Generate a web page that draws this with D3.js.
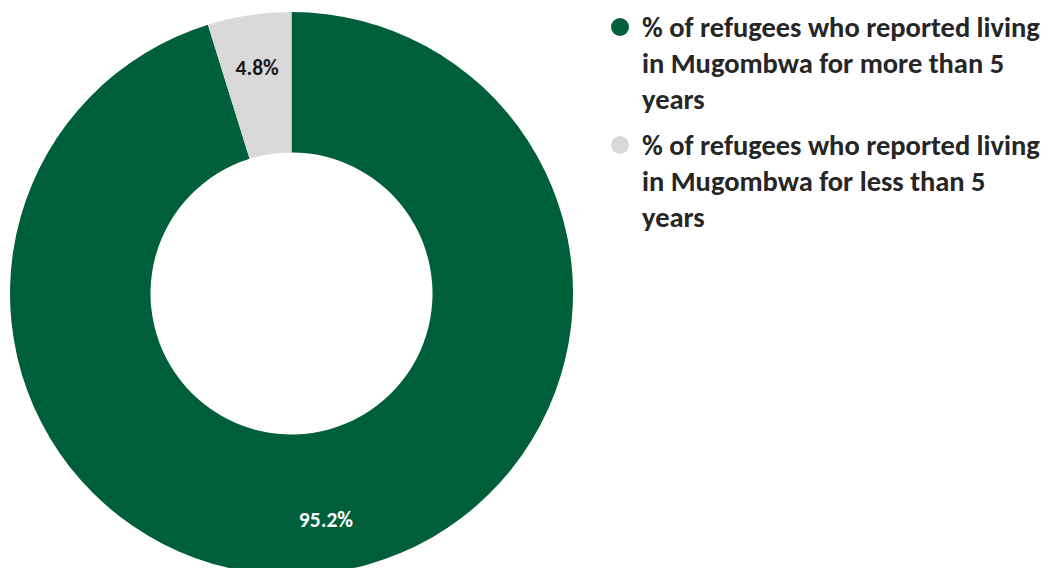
<!DOCTYPE html>
<html><head><meta charset="utf-8">
<script src="https://cdn.jsdelivr.net/npm/d3@7"></script>
<style>html,body{margin:0;padding:0;background:#fff;}svg{display:block;}</style>
</head><body>
<svg id="chart" width="1048" height="568"></svg>
<script>
const categories = ["% of refugees who reported living in Mugombwa for more than 5 years",
                    "% of refugees who reported living in Mugombwa for less than 5 years"];
const legendLines = [["% of refugees who reported living","in Mugombwa for more than 5","years"],
                     ["% of refugees who reported living","in Mugombwa for less than 5","years"]];
const values = [95.2, 4.8];
const labels = ["95.2%", "4.8%"];
const colors = ["#005F3B", "#D9D9D9"];
const labelColors = ["#ffffff", "#1a1a1a"];

const svg = d3.select("#chart");
const cx = 291.5, cy = 293.5, rOuter = 281.5, rInner = 141;
const font = "Calibri, Carlito, 'Open Sans', 'Liberation Sans', sans-serif";

const pie = d3.pie().sort(null).value(d => d);
const arc = d3.arc().innerRadius(rInner).outerRadius(rOuter);
const labelArc = d3.arc().innerRadius(229).outerRadius(229);
const g = svg.append("g").attr("transform", `translate(${cx},${cy})`);
const arcs = pie(values);
g.selectAll("path").data(arcs).join("path")
  .attr("d", arc).attr("fill", (d,i) => colors[i]);
g.selectAll("text").data(arcs).join("text")
  .attr("transform", d => `translate(${labelArc.centroid(d)})`)
  .attr("text-anchor", "middle").attr("dy", "0.35em")
  .attr("font-family", font).attr("font-weight", "bold").attr("font-size", 21.5)
  .attr("fill", (d,i) => labelColors[i])
  .text((d,i) => labels[i]);

const legend = svg.append("g");
const startY = [27, 145];
const lineH = 36;
let fs = 22;
legendLines.forEach((lines, i) => {
  legend.append("circle").attr("cx", 620).attr("cy", startY[i]).attr("r", 9).attr("fill", colors[i]);
  const t = legend.append("text").attr("font-family", font).attr("font-weight", "bold")
    .attr("font-size", fs).attr("fill", "#262626").attr("class","leg");
  lines.forEach((ln, j) => {
    t.append("tspan").attr("x", 642).attr("y", startY[i] + j*lineH).attr("dy", "0.35em").text(ln);
  });
});
// fit first line width to ~398px
const first = legend.select("tspan").node();
const w = first.getComputedTextLength();
fs = fs * 398 / w;
legend.selectAll("text.leg").attr("font-size", fs);
</script>
</body></html>
